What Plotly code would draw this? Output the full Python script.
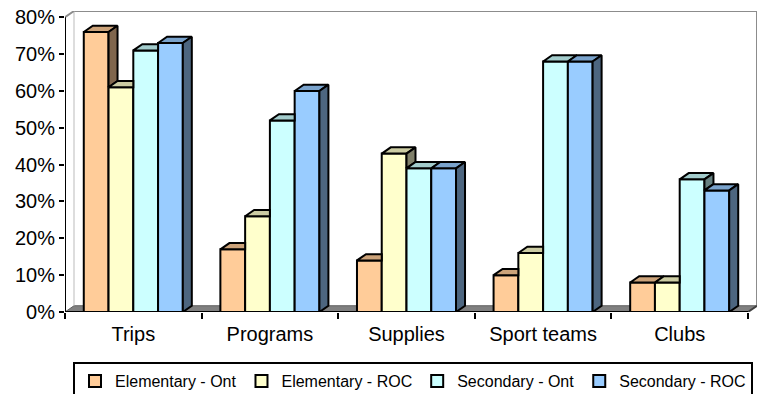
import plotly.graph_objects as go

# ---------------- data ----------------
categories = ["Trips", "Programs", "Supplies", "Sport teams", "Clubs"]
series_names = ["Elementary - Ont", "Elementary - ROC", "Secondary - Ont", "Secondary - ROC"]
elementary_ont = [76, 17, 14, 10, 8]
elementary_roc = [61, 26, 43, 16, 8]
secondary_ont = [71, 52, 39, 68, 36]
secondary_roc = [73, 60, 39, 68, 33]
y_ticks = [0, 10, 20, 30, 40, 50, 60, 70, 80]
y_tick_labels = ["0%", "10%", "20%", "30%", "40%", "50%", "60%", "70%", "80%"]

# ---------------- style ----------------
front_colors = ["#FFCC99", "#FFFFCC", "#CCFFFF", "#99CCFF"]
top_colors = ["#CCA37A", "#CCCCA3", "#A3CCCC", "#7AA3CC"]
side_colors = ["#80664D", "#80806A", "#668080", "#4D6680"]
FONT = "Liberation Sans, Arial, sans-serif"

values = [elementary_ont, elementary_roc, secondary_ont, secondary_roc]
n = len(categories)
ns = len(values)
GROUP = 0.725          # width of a cluster in category units
W = GROUP / ns         # single bar width
DX = 0.0659            # 3D depth offset (x, category units)
DY = 1.7               # 3D depth offset (y, value units)
YMAX = y_ticks[-1]
x_idx = list(range(n))

fig = go.Figure()

# front faces: real bar traces
for s, (name, vals) in enumerate(zip(series_names, values)):
    fig.add_trace(go.Bar(
        x=x_idx, y=vals, name=name, width=W, offset=-GROUP / 2 + s * W,
        marker=dict(color=front_colors[s], line=dict(color="black", width=2)),
        hovertemplate="%{y}%<extra>" + name + "</extra>",
    ))

# top and side faces (3D look), derived from the data
for s in range(ns):
    tx, ty, sx, sy = [], [], [], []
    for i in range(n):
        v = values[s][i]
        vn = values[s + 1][i] if s < ns - 1 else None
        x0 = i - GROUP / 2 + s * W
        x1 = x0 + W
        if vn is not None and vn > v:
            if vn >= v + DY:
                pts = [(x0, v), (x1, v), (x1, v + DY), (x0 + DX, v + DY)]
            else:
                xi = x1 + DX * (vn - v) / DY
                pts = [(x0, v), (x1, v), (x1, vn), (xi, vn), (x1 + DX, v + DY), (x0 + DX, v + DY)]
        else:
            pts = [(x0, v), (x1, v), (x1 + DX, v + DY), (x0 + DX, v + DY)]
        pts.append(pts[0])
        tx += [p[0] for p in pts] + [None]
        ty += [p[1] for p in pts] + [None]
        if vn is None or v > vn:
            b = 0 if vn is None else vn
            spts = [(x1, b), (x1 + DX, b + DY), (x1 + DX, v + DY), (x1, v), (x1, b)]
            sx += [p[0] for p in spts] + [None]
            sy += [p[1] for p in spts] + [None]
    fig.add_trace(go.Scatter(x=tx, y=ty, mode="lines", fill="toself", fillcolor=top_colors[s],
                             line=dict(color="black", width=2), showlegend=False, hoverinfo="skip"))
    if sx:
        fig.add_trace(go.Scatter(x=sx, y=sy, mode="lines", fill="toself", fillcolor=side_colors[s],
                                 line=dict(color="black", width=2), showlegend=False, hoverinfo="skip"))

XL, XR = -0.5, n - 0.5
shapes = [
    # floor
    dict(type="path", layer="below",
         path=f"M{XL},0 L{XR},0 L{XR + DX},{DY} L{XL + DX},{DY} Z",
         fillcolor="#808080", line=dict(color="#606060", width=1)),
    # back wall outline
    dict(type="line", x0=XL + DX, y0=YMAX + DY, x1=XR + DX, y1=YMAX + DY, line=dict(color="#8C8C8C", width=2), layer="below"),
    dict(type="line", x0=XR + DX, y0=DY, x1=XR + DX, y1=YMAX + DY, line=dict(color="#8C8C8C", width=2), layer="below"),
    dict(type="line", x0=XL + DX, y0=DY, x1=XL + DX, y1=YMAX + DY, line=dict(color="#BBBBBB", width=1), layer="below"),
    dict(type="line", x0=XL, y0=YMAX, x1=XL + DX, y1=YMAX + DY, line=dict(color="#8C8C8C", width=2), layer="below"),
    dict(type="line", x0=XR, y0=0, x1=XR + DX, y1=DY, line=dict(color="#404040", width=2)),
    # axis lines
    dict(type="line", x0=XL, y0=0, x1=XL, y1=YMAX, line=dict(color="black", width=2)),
    dict(type="line", x0=XL, y0=0, x1=XR, y1=0, line=dict(color="black", width=2)),
]

fig.update_layout(
    width=760, height=394,
    margin=dict(l=65, r=3, t=11, b=82, autoexpand=False),
    paper_bgcolor="white", plot_bgcolor="white",
    barmode="overlay",
    font=dict(family=FONT, color="black"),
    shapes=shapes,
    showlegend=True,
    legend=dict(orientation="h", x=8 / 692, y=-50 / 301, xanchor="left", yanchor="top",
                bordercolor="black", borderwidth=2, bgcolor="white",
                font=dict(family=FONT, size=16, color="black"), traceorder="normal"),
    xaxis=dict(range=[XL, XR + DX], tickmode="array", tickvals=x_idx, ticktext=categories,
               ticks="", showgrid=False, zeroline=False, showline=False,
               tickfont=dict(family=FONT, size=20, color="black"), ticklabelstandoff=8,
               minor=dict(tickmode="array", tickvals=[XL + k for k in range(n + 1)], ticks="outside",
                          ticklen=6, tickwidth=2, tickcolor="black", showgrid=False),
               fixedrange=True),
    yaxis=dict(range=[0, YMAX + DY], tickmode="array", tickvals=y_ticks, ticktext=y_tick_labels,
               ticks="outside", ticklen=5, tickwidth=2, tickcolor="black",
               showgrid=False, zeroline=False, showline=False,
               tickfont=dict(family=FONT, size=20, color="black"), ticklabelstandoff=0,
               fixedrange=True),
)

fig.write_html("out.html")
